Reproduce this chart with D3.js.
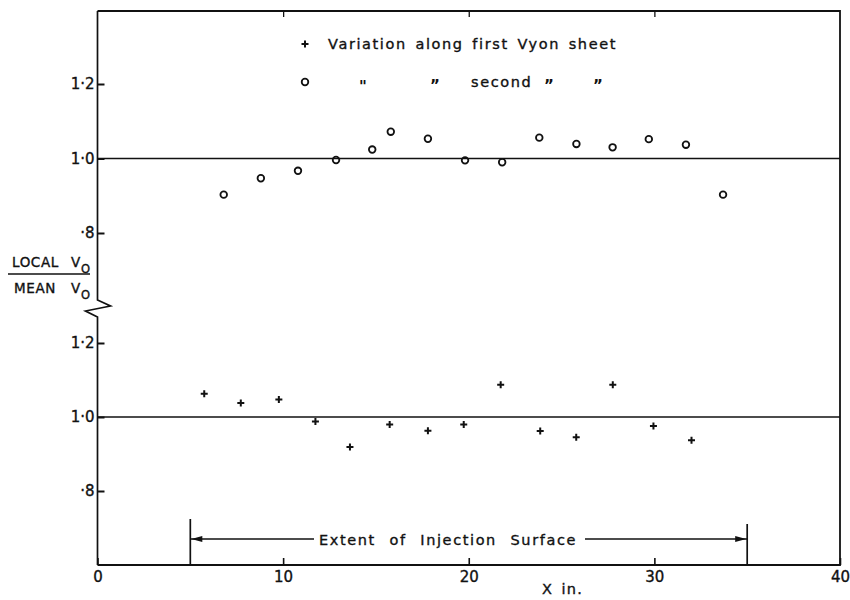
<!DOCTYPE html>
<html><head><meta charset="utf-8">
<script src="https://cdn.jsdelivr.net/npm/d3@7"></script>
<style>
body{margin:0;background:#fff;}
svg{font-family:"DejaVu Sans",sans-serif;}
.lab{stroke:#111;stroke-width:0.35px;}
</style></head>
<body><svg id="c" width="850" height="600"></svg>
<script>
// Data
const secondX = [6.8, 8.8, 10.8, 12.85, 14.8, 15.8, 17.8, 19.8, 21.8, 23.8, 25.8, 27.75, 29.7, 31.7, 33.7];
const secondV = [0.903, 0.947, 0.967, 0.996, 1.024, 1.072, 1.053, 0.995, 0.990, 1.056, 1.039, 1.030, 1.052, 1.037, 0.903];
const firstX  = [5.75, 7.72, 9.77, 11.74, 13.6, 15.74, 17.8, 19.73, 21.72, 23.85, 25.79, 27.76, 29.95, 32.0];
const firstV  = [1.063, 1.038, 1.047, 0.988, 0.919, 0.980, 0.963, 0.980, 1.087, 0.962, 0.945, 1.087, 0.976, 0.937];
const xTicks = [0, 10, 20, 30, 40];
const yTicks = [0.8, 1.0, 1.2];
const injectionExtent = [5, 35];

const svg = d3.select("#c");
const x = d3.scaleLinear().domain([0, 40]).range([97.5, 840]);
const yUp = d3.scaleLinear().domain([0.8, 1.2]).range([233, 84]);
const yLo = d3.scaleLinear().domain([0.8, 1.2]).range([491, 343]);
const topY = 11, bottomY = 565;
const L = x(0), R = x(40);
const ink = "#111";

const fmt = d => d === 0.8 ? "·8" : d3.format(".1f")(d).replace(".", "·");

// fit text to a target width by adjusting word spacing
function fit(sel, target, ls) {
  sel.attr("letter-spacing", ls);
  const w = sel.node().getComputedTextLength();
  const n = (sel.text().match(/ /g) || []).length;
  if (n > 0) sel.attr("word-spacing", Math.max(0, (target - w) / n));
  return sel;
}

// frame (top, right, bottom) and left axis with break
const g = svg.append("g").attr("stroke", ink).attr("fill", "none").attr("stroke-width", 1.8);
g.append("path").attr("d", `M${L},${topY}H${R}V${bottomY}H${L}`);
g.append("path").attr("d", `M${L},${topY}V300L${L+13},306L${L-12},311L${L},317V${bottomY}`).attr("stroke-width", 1.7);

// reference lines at 1.0
svg.append("line").attr("x1", L).attr("x2", R).attr("y1", yUp(1)).attr("y2", yUp(1)).attr("stroke", ink).attr("stroke-width", 1.5);
svg.append("line").attr("x1", L).attr("x2", R).attr("y1", yLo(1)).attr("y2", yLo(1)).attr("stroke", ink).attr("stroke-width", 1.5);

// x axis
const xa = svg.append("g").attr("transform", `translate(0,${bottomY})`)
  .call(d3.axisBottom(x).tickValues(xTicks).tickSizeInner(-7).tickSizeOuter(0).tickPadding(6).tickFormat(d3.format("d")));
xa.select(".domain").remove();
xa.selectAll("line").attr("stroke", ink).attr("stroke-width", 1.6);
xa.selectAll("text").attr("font-size", 15).attr("fill", ink).attr("font-family", "DejaVu Sans").attr("class", "lab");
// top ticks
const xt = svg.append("g").attr("transform", `translate(0,${topY})`)
  .call(d3.axisTop(x).tickValues([10, 20, 30]).tickSizeInner(-6).tickSizeOuter(0).tickFormat(""));
xt.select(".domain").remove();
xt.selectAll("line").attr("stroke", ink).attr("stroke-width", 1.3);

// y axes
function yAxis(scale) {
  const a = svg.append("g").attr("transform", `translate(${L},0)`)
    .call(d3.axisLeft(scale).tickValues(yTicks).tickSizeInner(-7).tickSizeOuter(0).tickPadding(3).tickFormat(fmt));
  a.select(".domain").remove();
  a.selectAll("line").attr("stroke", ink).attr("stroke-width", 2);
  a.selectAll("text").attr("font-size", 15).attr("fill", ink).attr("font-family", "DejaVu Sans").attr("class", "lab");
}
yAxis(yUp); yAxis(yLo);

// markers
function cross(sel, cx, cy) {
  sel.append("path").attr("d", `M${cx-3.5},${cy}H${cx+3.5}M${cx},${cy-3.5}V${cy+3.5}`)
    .attr("stroke", ink).attr("stroke-width", 2).attr("fill", "none");
}
svg.append("g").selectAll("circle").data(secondX.map((d, i) => [d, secondV[i]])).join("circle")
  .attr("cx", d => x(d[0])).attr("cy", d => yUp(d[1])).attr("r", 3.3)
  .attr("fill", "none").attr("stroke", ink).attr("stroke-width", 1.8);
const cg = svg.append("g");
firstX.forEach((d, i) => cross(cg, x(d), yLo(firstV[i])));

// legend
cross(svg, 305, 44);
fit(svg.append("text").attr("x", 328).attr("y", 49).attr("font-size", 14.5).attr("fill", ink).attr("class", "lab")
  .text("Variation along first Vyon sheet"), 289, 1.6);
svg.append("circle").attr("cx", 305).attr("cy", 82).attr("r", 3.3).attr("fill", "none").attr("stroke", ink).attr("stroke-width", 1.8);
[363, 435, 549, 598].forEach((px, i) =>
  svg.append("text").attr("x", px).attr("y", i === 0 ? 92 : 91).attr("font-size", 15).attr("font-weight", "bold")
    .attr("text-anchor", "middle").attr("fill", ink).text(i === 0 ? "\"" : "\u201D"));
svg.append("text").attr("x", 471).attr("y", 87).attr("font-size", 14.5).attr("fill", ink).attr("class", "lab")
  .attr("letter-spacing", 1.6).text("second");

// injection extent annotation
const ax0 = x(injectionExtent[0]), ax1 = x(injectionExtent[1]), ay = 539;
const ag = svg.append("g").attr("stroke", ink).attr("stroke-width", 1.7).attr("fill", "none");
ag.append("line").attr("x1", ax0).attr("x2", ax0).attr("y1", 519).attr("y2", bottomY);
ag.append("line").attr("x1", ax1).attr("x2", ax1).attr("y1", 524).attr("y2", bottomY);
ag.append("line").attr("x1", ax0).attr("x2", 314).attr("y1", ay).attr("y2", ay).attr("stroke-width", 1.3);
ag.append("line").attr("x1", 585).attr("x2", ax1).attr("y1", ay).attr("y2", ay).attr("stroke-width", 1.3);
svg.append("path").attr("d", `M${ax0+1},${ay}l11,-3v6z`).attr("fill", ink);
svg.append("path").attr("d", `M${ax1-1},${ay}l-11,-3v6z`).attr("fill", ink);
fit(svg.append("text").attr("x", 319).attr("y", 545).attr("font-size", 14.5).attr("fill", ink).attr("class", "lab")
  .text("Extent of Injection Surface"), 258, 1.6);

// x label
fit(svg.append("text").attr("x", 542).attr("y", 594).attr("font-size", 14.5).attr("fill", ink).attr("class", "lab")
  .text("X in."), 41, 1.2);

// y label: LOCAL Vo / MEAN Vo
const yl = svg.append("g").attr("fill", ink).attr("font-size", 13.5).attr("class", "lab");
yl.append("text").attr("x", 12).attr("y", 267).attr("letter-spacing", 0.6).text("LOCAL");
yl.append("text").attr("x", 71).attr("y", 267).text("V");
yl.append("text").attr("x", 81).attr("y", 273).attr("font-size", 11.5).text("O");
svg.append("line").attr("x1", 8).attr("x2", 90).attr("y1", 274).attr("y2", 274).attr("stroke", ink).attr("stroke-width", 1.4);
yl.append("text").attr("x", 14).attr("y", 293).attr("letter-spacing", 0.6).text("MEAN");
yl.append("text").attr("x", 71).attr("y", 293).text("V");
yl.append("text").attr("x", 81).attr("y", 299).attr("font-size", 11.5).text("O");
</script></body></html>
